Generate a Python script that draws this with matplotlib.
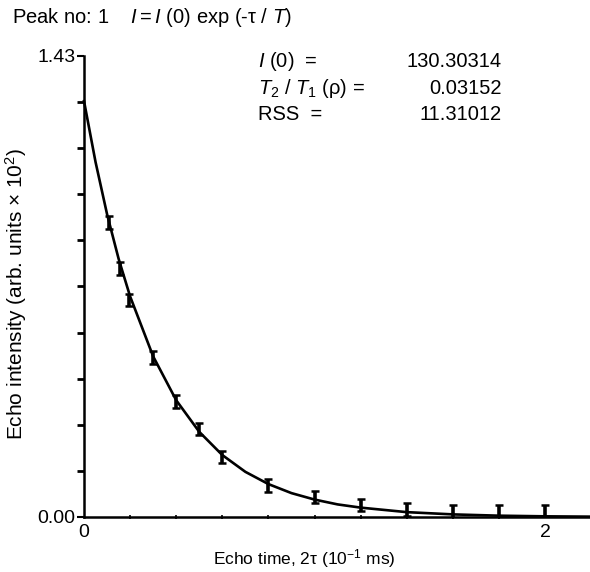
import matplotlib
matplotlib.use("Agg")
import matplotlib.pyplot as plt

plt.rcParams['font.family'] = ['Liberation Sans', 'DejaVu Sans']
plt.rcParams['mathtext.fontset'] = 'custom'
plt.rcParams['mathtext.rm'] = 'Liberation Sans'
plt.rcParams['mathtext.it'] = 'Liberation Sans:italic'

# measured echo intensities (arb. units x 10^2) vs echo time (10^-1 ms)
echo_time = [0.11, 0.155, 0.195, 0.3, 0.4, 0.5, 0.6, 0.8, 1.0, 1.2, 1.4, 1.6, 1.8, 2.0]
echo_int = [0.912, 0.772, 0.673, 0.496, 0.357, 0.273, 0.186, 0.099, 0.062, 0.037,
            0.022, 0.016, 0.016, 0.016]

# fitted decay curve
fit_time = [0.0, 0.05, 0.1, 0.15, 0.2, 0.3, 0.4, 0.5, 0.6, 0.7, 0.8, 0.9, 1.0,
            1.1, 1.2, 1.4, 1.6, 1.8, 2.0, 2.2]
fit_int = [1.29, 1.101, 0.939, 0.801, 0.684, 0.498, 0.362, 0.264, 0.192, 0.140,
           0.102, 0.074, 0.054, 0.039, 0.029, 0.015, 0.008, 0.004, 0.002, 0.001]

y_top = 1.43
fit_labels = [r"$I$ (0)  =", r"$T_2$ / $T_1$ (ρ) =", "RSS  ="]
fit_values = ["130.30314", "0.03152", "11.31012"]

fig = plt.figure(figsize=(5.9, 5.72), dpi=100)
ax = fig.add_axes([0.1424, 0.0962, 0.8576, 0.806])

ax.plot(fit_time, fit_int, color='black', lw=1.9, clip_on=False)
ax.errorbar(echo_time, echo_int, yerr=0.02, fmt='none', ecolor='black',
            elinewidth=2.6, capsize=3, capthick=1.8)

ax.set_xlim(0, 2.195)
ax.set_ylim(0, y_top)

for s in ['top', 'right']:
    ax.spines[s].set_visible(False)
for s in ['left', 'bottom']:
    ax.spines[s].set_linewidth(1.8)

ax.set_xticks([0, 2])
ax.set_xticklabels(['0', '2'])
ax.set_xticks([0.2 * k for k in range(1, 11)], minor=True)
ax.set_yticks([0, y_top])
ax.set_yticklabels(['0.00', '1.43'])
ax.set_yticks([y_top / 10 * k for k in range(1, 10)], minor=True)
ax.tick_params(axis='both', which='major', labelsize=14, length=5, width=1.5)
ax.tick_params(axis='y', which='minor', length=5, width=2, direction='out')
ax.tick_params(axis='x', which='minor', length=3, width=1.2, direction='inout')
ax.tick_params(axis='y', which='major', pad=1)
ax.tick_params(axis='x', which='major', length=0, pad=5)

ax.set_xlabel("Echo time, 2τ (10$^{-1}$ ms)", fontsize=12.5)
ax.xaxis.set_label_coords(0.435, -0.066)
ax.set_ylabel("Echo intensity (arb. units × 10$^{2}$)", fontsize=15)
ax.yaxis.set_label_coords(-0.108, 0.484)

fig.text(0.02, 0.969, r"Peak no: 1    $I = I$ (0) exp (-τ / $T$)", fontsize=14.5,
         va='center')

for i, (lab, val) in enumerate(zip(fit_labels, fit_values)):
    yy = 0.892 - i * 0.0465
    fig.text(0.437, yy, lab, fontsize=14.5, va='center')
    fig.text(0.851, yy, val, fontsize=14.5, va='center', ha='right')

fig.savefig("out.png", dpi=100)
